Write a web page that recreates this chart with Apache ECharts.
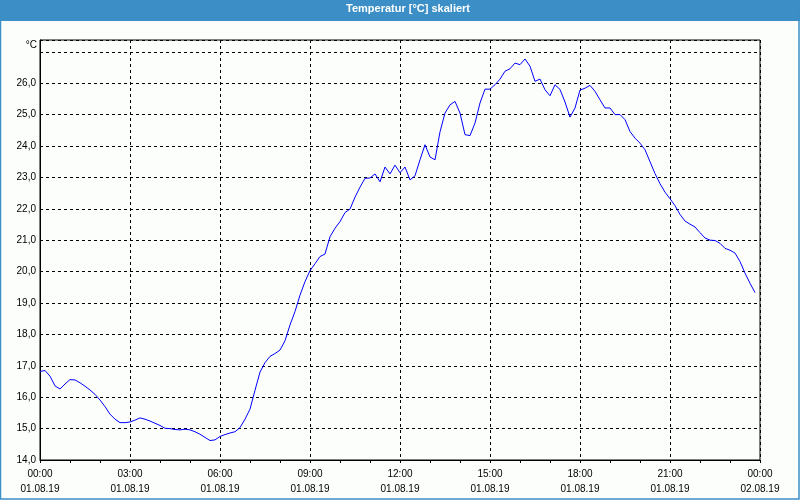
<!DOCTYPE html>
<html>
<head>
<meta charset="utf-8">
<script src="https://cdn.jsdelivr.net/npm/echarts@6/dist/echarts.min.js"></script>
<style>
html,body{margin:0;padding:0;background:#fcfefc;}
#chart{width:800px;height:500px;}
</style>
</head>
<body>
<div id="chart"></div>
<script>
// Title / units
const chartTitle = 'Temperatur [°C] skaliert';
const unitLabel = '°C';
// Time axis tick labels (every 3 hours)
const timeLabels = ['00:00','03:00','06:00','09:00','12:00','15:00','18:00','21:00','00:00'];
const dateLabels = ['01.08.19','01.08.19','01.08.19','01.08.19','01.08.19','01.08.19','01.08.19','01.08.19','02.08.19'];
// Sampling: one reading every 10 minutes starting 01.08.19 00:00
const stepMinutes = 10;
// Temperature readings [°C]
const temps = [
16.82,16.85,16.67,16.36,16.26,16.42,16.56,16.55,16.46,16.35,16.23,16.09,
15.91,15.70,15.46,15.30,15.19,15.19,15.21,15.27,15.34,15.30,15.24,15.17,
15.10,15.01,15.00,14.97,14.96,14.98,14.96,14.90,14.82,14.72,14.62,14.64,
14.75,14.81,14.86,14.90,15.03,15.30,15.62,16.22,16.80,17.10,17.30,17.39,
17.50,17.80,18.30,18.73,19.25,19.68,20.03,20.25,20.48,20.56,21.11,21.38,
21.59,21.88,21.99,22.37,22.69,22.97,22.98,23.11,22.86,23.33,23.11,23.39,
23.15,23.33,22.92,23.05,23.56,24.04,23.65,23.56,24.45,25.05,25.31,25.42,
25.05,24.36,24.33,24.73,25.37,25.81,25.81,25.95,26.13,26.38,26.46,26.64,
26.59,26.77,26.54,26.06,26.13,25.79,25.60,25.95,25.80,25.40,24.92,25.21,
25.78,25.84,25.93,25.74,25.47,25.21,25.21,25.00,25.00,24.84,24.46,24.25,
24.09,23.88,23.50,23.12,22.80,22.53,22.32,22.10,21.82,21.61,21.51,21.42,
21.24,21.07,21.00,20.99,20.90,20.74,20.68,20.59,20.32,19.95,19.63,19.33
];

const seriesData = temps.map((t, i) => [i * stepMinutes / 60, t]);

const chart = echarts.init(document.getElementById('chart'), null, {renderer: 'canvas'});
const font = 'Liberation Sans';
chart.setOption({
  backgroundColor: '#fcfefc',
  animation: false,
  textStyle: {fontFamily: font},
  graphic: [
    {type: 'rect', z: 0, shape: {x: 0, y: 0, width: 800, height: 21}, style: {fill: '#3b8fc6'}},
    {type: 'rect', z: 0, shape: {x: 0.5, y: 0.5, width: 798.5, height: 498.5}, style: {fill: null, stroke: '#3b8fc6', lineWidth: 1.5}},
    {type: 'text', z: 10, x: 408, y: 9, style: {text: chartTitle, fill: '#ffffff', font: 'bold 11px "Liberation Sans"', textAlign: 'center', textVerticalAlign: 'middle'}},
    {type: 'text', z: 10, x: 37, y: 45, style: {text: unitLabel, fill: '#000', font: '10px "Liberation Sans"', textAlign: 'right', textVerticalAlign: 'middle'}}
  ],
  grid: {left: 40, right: 40, top: 40, bottom: 40, show: true, borderColor: '#000', borderWidth: 1, backgroundColor: 'transparent'},
  xAxis: {
    type: 'value', min: 0, max: 24, interval: 3,
    axisLine: {show: true, lineStyle: {color: '#000', width: 1}},
    axisTick: {show: true, length: 3, lineStyle: {color: '#000'}},
    minorTick: {show: true, splitNumber: 3, length: 3, lineStyle: {color: '#000'}},
    minorSplitLine: {show: false},
    splitLine: {show: true, lineStyle: {color: '#000', type: [3, 3], width: 1}},
    axisLabel: {
      color: '#000', fontSize: 10, fontFamily: font, margin: 7, lineHeight: 15,
      formatter: v => { const i = Math.round(v / 3); return timeLabels[i] + '\n' + dateLabels[i]; }
    }
  },
  yAxis: {
    type: 'value', min: 14, max: 27.375, interval: 1,
    axisLine: {show: true, lineStyle: {color: '#000', width: 1}},
    axisTick: {show: false},
    splitLine: {show: true, lineStyle: {color: '#000', type: [3, 3], width: 1}},
    axisLabel: {
      color: '#000', fontSize: 10, fontFamily: font, margin: 4,
      formatter: v => (v > 26.5 ? '' : v.toFixed(1).replace('.', ','))
    }
  },
  series: [{
    type: 'line', data: seriesData, showSymbol: false, symbol: 'none',
    lineStyle: {color: '#0000ff', width: 1}, z: 5
  }]
});
</script>
</body>
</html>
